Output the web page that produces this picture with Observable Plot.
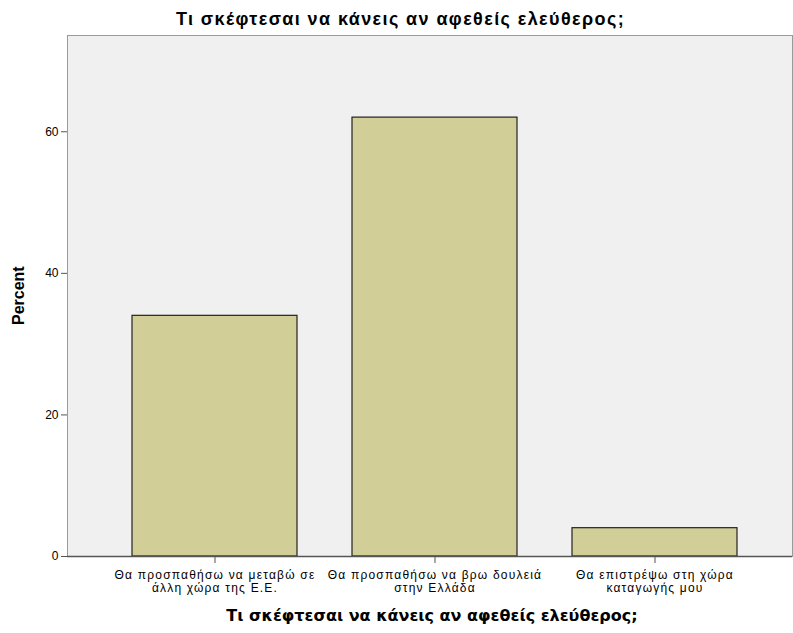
<!DOCTYPE html>
<html>
<head>
<meta charset="utf-8">
<script src="https://cdn.jsdelivr.net/npm/d3@7"></script>
<script src="https://cdn.jsdelivr.net/npm/@observablehq/plot@0.6"></script>
<style>
  body { margin: 0; background: #fff; }
  #title { height: 34px; width: 793px; text-align: center; font: bold 18px "Liberation Sans", Arial, sans-serif; letter-spacing: 1.4px; line-height: 38px; color: #000; padding-left: 8px; box-sizing: border-box; }
  #chart svg { display: block; }
  g[aria-label="x-axis tick label"] text { letter-spacing: 1.2px; }
  .ytitle text { letter-spacing: 2.6px; }
</style>
</head>
<body>
<div id="title">Τι σκέφτεσαι να κάνεις αν αφεθείς ελεύθερος;</div>
<div id="chart"></div>
<script>
const categories = [
  "Θα προσπαθήσω να μεταβώ σε άλλη χώρα της Ε.Ε.",
  "Θα προσπαθήσω να βρω δουλειά στην Ελλάδα",
  "Θα επιστρέψω στη χώρα καταγωγής μου"
];
const tickLabels = [
  "Θα προσπαθήσω να μεταβώ σε\nάλλη χώρα της Ε.Ε.",
  "Θα προσπαθήσω να βρω δουλειά\nστην Ελλάδα",
  "Θα επιστρέψω στη χώρα\nκαταγωγής μου"
];
const percents = [34, 62, 4];
const yTicks = [0, 20, 40, 60];
const xTitle = "Τι σκέφτεσαι να κάνεις αν αφεθείς ελεύθερος;";
const yTitle = "Percent";

const data = categories.map((c, i) => ({category: c, percent: percents[i]}));
const labelOf = new Map(categories.map((c, i) => [c, tickLabels[i]]));

const chart = Plot.plot({
  width: 793,
  height: 599,
  marginTop: 1,
  marginLeft: 67,
  marginRight: 1,
  marginBottom: 77,
  style: {fontFamily: "'Liberation Sans', Arial, sans-serif", fontSize: "12px", color: "#000", background: "#fff"},
  x: {domain: categories, range: [76, 794], padding: 0.249, align: 0.5},
  y: {domain: [0, 73.6]},
  marks: [
    Plot.frame({fill: "#f0f0f0", stroke: "#9a9a9a", strokeWidth: 1}),
    Plot.barY(data, {x: "category", y: "percent", fill: "#d2ce98", stroke: "#222", strokeWidth: 1.2}),
    Plot.ruleX([0], {x: () => 0, stroke: "#555", strokeWidth: 1.5, frameAnchor: "left"}),
    Plot.axisY(yTicks, {tickSize: 6, tickPadding: 3, stroke: "#555", fontSize: 12, label: null, color: "#000"}),
    Plot.ruleY([0], {stroke: "#555", strokeWidth: 1.5}),
    Plot.axisX({tickSize: 7, tickPadding: 6, stroke: "#555", fontSize: 12, label: null, lineHeight: 1.08, tickFormat: d => labelOf.get(d)}),
    Plot.text([yTitle], {frameAnchor: "left", dx: -49, dy: 29, rotate: -90, fontWeight: "bold", fontSize: 16, text: d => d, ariaLabel: "y-title"}),
    Plot.text([xTitle], {frameAnchor: "bottom", dy: 64, dx: 2, fontWeight: "bold", fontSize: 16, text: d => d, fontFamily: "'DejaVu Sans', Verdana, sans-serif"})
  ]
});
const yt = chart.querySelector('g[aria-label="y-title"]');
if (yt) yt.setAttribute("class", "ytitle");
document.getElementById("chart").appendChild(chart);
</script>
</body>
</html>
